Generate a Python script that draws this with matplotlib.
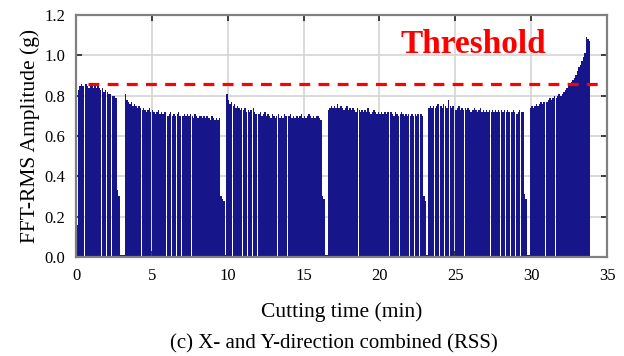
import matplotlib
matplotlib.use("Agg")
import matplotlib.pyplot as plt
import numpy as np

# ---------------- data ----------------
STEP = 0.1  # min, spacing of the amplitude envelope samples

seg1_start = 0.0
seg1_vals = [0.16, 0.83, 0.85, 0.86, 0.85, 0.84, 0.86, 0.85, 0.84, 0.85,
             0.86, 0.84, 0.85, 0.84, 0.86, 0.84, 0.83, 0.84, 0.82, 0.83,
             0.82, 0.81, 0.81, 0.80, 0.80, 0.80, 0.79, 0.33, 0.30, 0.01,
             0.01, 0.01]

seg2_start = 3.2
seg2_vals = [0.81, 0.78, 0.77, 0.76, 0.77, 0.75, 0.76, 0.75, 0.74, 0.75,
             0.74, 0.73, 0.74, 0.73, 0.72, 0.73, 0.74, 0.72, 0.73, 0.72,
             0.71, 0.72, 0.73, 0.71, 0.72, 0.71, 0.72, 0.71, 0.70, 0.71,
             0.72, 0.70, 0.71, 0.70, 0.71, 0.72, 0.70, 0.71, 0.70, 0.71,
             0.70, 0.71, 0.70, 0.71, 0.70, 0.69, 0.71, 0.70, 0.69, 0.70,
             0.70, 0.69, 0.70, 0.69, 0.70, 0.69, 0.68, 0.70, 0.69, 0.68,
             0.69, 0.68, 0.69, 0.30, 0.29, 0.28, 0.01]

seg3_start = 9.9
seg3_vals = [0.81, 0.78, 0.76, 0.77, 0.75, 0.76, 0.74, 0.75, 0.74, 0.73,
             0.74, 0.73, 0.74, 0.72, 0.73, 0.72, 0.73, 0.74, 0.72, 0.71,
             0.72, 0.71, 0.72, 0.70, 0.71, 0.72, 0.70, 0.71, 0.70, 0.69,
             0.71, 0.70, 0.69, 0.70, 0.71, 0.69, 0.70, 0.69, 0.71, 0.70,
             0.69, 0.70, 0.71, 0.69, 0.70, 0.69, 0.70, 0.69, 0.70, 0.71,
             0.69, 0.70, 0.69, 0.70, 0.71, 0.70, 0.69, 0.70, 0.69, 0.70,
             0.70, 0.69, 0.68, 0.30, 0.29, 0.01, 0.01]

seg4_start = 16.6
seg4_vals = [0.73, 0.74, 0.75, 0.74, 0.75, 0.74, 0.76, 0.74, 0.75, 0.74,
             0.73, 0.74, 0.75, 0.73, 0.74, 0.73, 0.74, 0.73, 0.72, 0.74,
             0.73, 0.72, 0.73, 0.72, 0.73, 0.72, 0.74, 0.72, 0.71, 0.72,
             0.73, 0.72, 0.71, 0.72, 0.71, 0.72, 0.71, 0.72, 0.71, 0.72,
             0.71, 0.72, 0.71, 0.70, 0.72, 0.71, 0.70, 0.71, 0.72, 0.71,
             0.70, 0.71, 0.70, 0.71, 0.70, 0.71, 0.70, 0.71, 0.70, 0.71,
             0.70, 0.71, 0.70, 0.30, 0.28, 0.01]

seg5_start = 23.2
seg5_vals = [0.74, 0.75, 0.74, 0.75, 0.74, 0.75, 0.76, 0.74, 0.75, 0.74,
             0.76, 0.75, 0.74, 0.78, 0.75, 0.74, 0.75, 0.74, 0.73, 0.74,
             0.75, 0.73, 0.74, 0.73, 0.74, 0.73, 0.74, 0.73, 0.72, 0.73,
             0.74, 0.73, 0.72, 0.73, 0.74, 0.72, 0.73, 0.72, 0.73, 0.72,
             0.73, 0.72, 0.73, 0.72, 0.73, 0.72, 0.73, 0.72, 0.73, 0.72,
             0.73, 0.72, 0.73, 0.72, 0.71, 0.72, 0.73, 0.72, 0.71, 0.72,
             0.73, 0.72, 0.72, 0.31, 0.29, 0.01, 0.01]

seg6_start = 29.9
seg6_vals = [0.74, 0.75, 0.74, 0.75, 0.76, 0.75, 0.76, 0.77, 0.76, 0.77,
             0.78, 0.77, 0.78, 0.79, 0.78, 0.79, 0.80, 0.79, 0.80, 0.81,
             0.80, 0.81, 0.82, 0.83, 0.84, 0.85, 0.86, 0.87, 0.88, 0.89,
             0.90, 0.92, 0.94, 0.95, 0.97, 0.99, 1.01, 1.09, 1.08, 1.07]

# times where the signal falls to zero between cutting passes
dip_times = [0.55, 0.93, 1.31, 1.68, 2.00, 2.33,
             3.63, 3.94, 4.31, 4.60, 4.98, 5.33, 5.61, 5.97, 6.28, 6.63,
             6.95, 7.31, 7.60, 7.98, 8.29, 8.64, 8.96, 9.29,
             10.31, 10.62, 10.97, 11.29, 11.64, 11.96, 12.31, 12.60, 12.97,
             13.28, 13.64, 13.95, 14.31, 14.62, 14.97, 15.29, 15.63, 15.95,
             17.01, 17.33, 17.66, 17.98, 18.32, 18.63, 18.99, 19.31, 19.64,
             19.97, 20.30, 20.65, 20.96, 21.31, 21.62, 21.98, 22.30, 22.63,
             23.62, 23.95, 24.29, 24.63, 24.96, 25.30, 25.62, 25.97, 26.29,
             26.64, 26.95, 27.31, 27.62, 27.98, 28.30, 28.63, 28.97, 29.28,
             30.32, 30.65, 30.96, 31.31, 31.62, 31.98, 32.30, 32.62, 32.95,
             33.28, 33.55]
DIP_WIDTH = 0.035

threshold_value = 0.86
threshold_span = (0.8, 34.6)
threshold_label = "Threshold"

x_ticks = [0, 5, 10, 15, 20, 25, 30, 35]
y_ticks = [0.0, 0.2, 0.4, 0.6, 0.8, 1.0, 1.2]
x_label = "Cutting time (min)"
y_label = "FFT-RMS Amplitude (g)"
caption = "(c) X- and Y-direction combined (RSS)"

segments = [(seg1_start, seg1_vals), (seg2_start, seg2_vals),
            (seg3_start, seg3_vals), (seg4_start, seg4_vals),
            (seg5_start, seg5_vals), (seg6_start, seg6_vals)]

# ---------------- build a step signal (envelope with zero dips) ----------------
pieces = []
for start, vals in segments:
    for k, v in enumerate(vals):
        t0 = start + STEP * k
        t1 = t0 + STEP
        parts = [(t0, t1)]
        for d in dip_times:
            a, b = d - DIP_WIDTH / 2, d + DIP_WIDTH / 2
            new = []
            for p0, p1 in parts:
                if b <= p0 or a >= p1:
                    new.append((p0, p1))
                else:
                    if a > p0:
                        new.append((p0, a))
                    if b < p1:
                        new.append((b, p1))
            parts = new
        for p0, p1 in parts:
            pieces.append((p0, p1, v))
pieces.sort()

edges = [pieces[0][0]]
values = []
for p0, p1, v in pieces:
    if p0 > edges[-1] + 1e-9:
        values.append(0.0)
        edges.append(p0)
    values.append(v)
    edges.append(p1)

# ---------------- plot ----------------
plt.rcParams['font.family'] = ['Liberation Serif', 'DejaVu Serif']
plt.rcParams['mathtext.fontset'] = 'stix'

fig = plt.figure(figsize=(6.24, 3.56), dpi=100)
ax = fig.add_axes([0.1218, 0.2781, 0.8510, 0.6798])

ax.stairs(values, edges, fill=True, color='#16168a', linewidth=0, zorder=2)

ax.hlines(threshold_value, threshold_span[0], threshold_span[1],
          colors='#ff0000', linewidth=2.3, linestyles=(0, (3.4, 2.6)), zorder=3)
ax.text(26.2, 1.055, threshold_label, color='#ff0000', fontsize=24,
        fontweight='bold', ha='center', va='center', zorder=4)

ax.set_xlim(0, 35)
ax.set_ylim(0, 1.2)
ax.set_xticks(x_ticks)
ax.set_yticks(y_ticks)
ax.set_yticklabels([f"{v:.1f}" for v in y_ticks])
ax.grid(True, color='#d4d4d4', linewidth=1.2, zorder=0)
ax.set_axisbelow(True)

for s in ax.spines.values():
    s.set_color('#808080')
    s.set_linewidth(1.6)

ax.tick_params(direction='in', length=4, width=1.2, color='#222222',
               top=True, right=True, labelsize=12, pad=8)

ax.set_xlabel(x_label, fontsize=15.5, labelpad=13)
ax.set_ylabel(y_label, fontsize=15.5, labelpad=3)

fig.text(0.535, 0.0225, caption, fontsize=15, ha='center', va='baseline')

fig.savefig("out.png", dpi=100)
